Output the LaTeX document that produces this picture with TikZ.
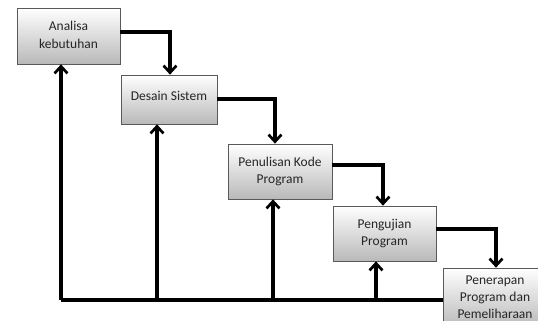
\documentclass[tikz,border=0pt]{standalone}
\usepackage{fontspec}
\setmainfont{Carlito}
\usepackage{tikz}
\usetikzlibrary{arrows.meta}
\usetikzlibrary{shadows}

\tikzset{
  tahap/.style={draw=gray!70!black, line width=0.6pt, rectangle,
    top color=white, bottom color=gray!55, text=black!85,
    drop shadow={shadow xshift=1.2pt, shadow yshift=-1.2pt, opacity=0.35},
    align=center, font=\fontsize{11.5}{14}\selectfont, inner sep=0pt},
  alur/.style={line width=2.8pt, -{Straight Barb[length=6pt, width=11pt, line width=2.3pt]}}
}
\newcommand{\teks}[1]{\renewcommand{\arraystretch}{1.05}\begin{tabular}{@{}c@{}}#1\end{tabular}}

\begin{document}
\begin{tikzpicture}[x=0.03cm, y=-0.03cm]

    \useasboundingbox (0, 0) rectangle (538, 321);

    \node [tahap, minimum width=103*0.03cm, minimum height=56*0.03cm] (analisa)
      at (68.5, 36) {\raisebox{5pt}{\teks{Analisa\\kebutuhan}}};
    \node [tahap, minimum width=96*0.03cm, minimum height=49*0.03cm] (desain)
      at (169, 99.5) {\raisebox{7pt}{Desain Sistem}};
    \node [tahap, minimum width=104*0.03cm, minimum height=55*0.03cm] (kode)
      at (280, 171.5) {\raisebox{5pt}{\teks{Penulisan Kode\\Program}}};
    \node [tahap, minimum width=103*0.03cm, minimum height=55*0.03cm] (uji)
      at (384.5, 233.5) {\raisebox{5pt}{\teks{Pengujian\\Program}}};
    \node [tahap, minimum width=104*0.03cm, minimum height=60*0.03cm] (terap)
      at (495, 298) {\raisebox{2pt}{\teks{Penerapan\\Program dan\\Pemeliharaan}}};

    \draw [alur] (analisa.east |- 0, 32) -| (desain.north -| 170, 0);
    \draw [alur] (desain.east |- 0, 99) -| (kode.north -| 275, 0);
    \draw [alur] (kode.east |- 0, 165) -| (uji.north -| 383, 0);
    \draw [alur] (uji.east |- 0, 229) -| (terap.north -| 496, 0);

    \coordinate (dasar) at (61, 300);
    \draw [line width=2.8pt] (terap.west |- dasar) -- (dasar);
    \draw [alur] (dasar) -- (analisa.south -| dasar);
    \draw [alur] (157, 300) -- (desain.south -| 157, 0);
    \draw [alur] (273, 300) -- (kode.south -| 273, 0);
    \draw [alur] (376, 300) -- (uji.south -| 376, 0);

  \end{tikzpicture}
\end{document}
